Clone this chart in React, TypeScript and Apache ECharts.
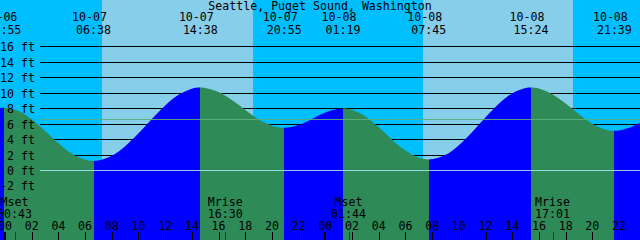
import React, { useEffect, useRef } from 'react';
import * as echarts from 'echarts';

// ---------- data ----------
const TITLE = 'Seattle, Puget Sound, Washington';

// tide extremes
const tideEventDates = ['10-06', '10-07', '10-07', '10-07', '10-08', '10-08', '10-08', '10-08'];
const tideEventTimes = ['23:55', '06:38', '14:38', '20:55', '01:19', '07:45', '15:24', '21:39'];
const tideEventKinds = ['High', 'Low', 'High', 'Low', 'High', 'Low', 'High', 'Low'];
const tideEventFeet = [8.2, 1.3, 10.8, 5.6, 8.1, 1.5, 10.8, 5.2];

// hourly readings of the curve (hours after 10-07 00:00, feet)
const curveHours = [-1, 1, 2, 3, 4, 5, 6, 7, 8, 9, 10, 11, 12, 13, 14, 15, 16, 17, 18, 19, 20, 22, 23, 24, 25, 26, 27, 28, 29, 30, 31, 33, 34, 35, 36, 37, 38, 39, 40, 41, 42, 43, 44, 45, 46, 47, 48];
const curveFeet = [7.9, 7.77, 6.69, 5.19, 3.6, 2.25, 1.45, 1.35, 1.97, 3.21, 4.88, 6.73, 8.48, 9.86, 10.65, 10.76, 10.22, 9.18, 7.91, 6.7, 5.87, 5.96, 6.75, 7.59, 8.07, 7.92, 7.05, 5.65, 4.05, 2.64, 1.72, 2.1, 3.35, 5.06, 6.96, 8.72, 10.05, 10.74, 10.67, 9.94, 8.73, 7.34, 6.11, 5.35, 5.24, 5.76, 6.67];

// sun
const sunriseDates = ['10-07', '10-08'];
const sunriseTimes = ['07:16', '07:19'];
const sunsetDates = ['10-07', '10-08'];
const sunsetTimes = ['18:35', '18:33'];

// moon
const moonEventNames = ['Mset', 'Mrise', 'Mset', 'Mrise'];
const moonEventDates = ['10-07', '10-07', '10-08', '10-08'];
const moonEventTimes = ['00:43', '16:30', '01:44', '17:01'];

// hour ticks
const hourTickHours = [0, 2, 4, 6, 8, 10, 12, 14, 16, 18, 20, 22, 24, 26, 28, 30, 32, 34, 36, 38, 40, 42, 44, 46];
const hourTickLabels = ['00', '02', '04', '06', '08', '10', '12', '14', '16', '18', '20', '22', '00', '02', '04', '06', '08', '10', '12', '14', '16', '18', '20', '22'];

// depth levels
const depthLevels = [-2, 0, 2, 4, 6, 8, 10, 12, 14, 16];
const depthLabels = ['-2 ft', '0 ft', '2 ft', '4 ft', '6 ft', '8 ft', '10 ft', '12 ft', '14 ft', '16 ft'];
const MSL_FEET = 6.6;

// ---------- layout / style ----------
const X_MIN = -0.375;
const X_MAX = 47.57;
const Y_MIN = -8.94;
const Y_MAX = 22.15;

const NIGHT = '#00BFFF';
const DAY = '#87CEEB';
const FLOOD = '#0000FF';
const EBB = '#2E8B57';
const MSL_COLOR = 'rgba(90,175,120,0.9)';
const DATUM_COLOR = 'rgba(165,222,240,0.9)';
const FONT = '11.6px "DejaVu Sans Mono", "Liberation Mono", monospace';

const LINE_START = 40;
const LABEL_RIGHT = 35;
const TITLE_Y = 6;
const EVENT_DATE_Y = 17;
const EVENT_TIME_Y = 30;
const MOON_NAME_Y = 201.5;
const MOON_TIME_Y = 213.5;
const HOUR_LABEL_Y = 226;
const TICK_TOP = 232;

function toHours(date: string, time: string): number {
  const day = parseInt(date.split('-')[1], 10) - 7;
  const [h, m] = time.split(':').map(Number);
  return day * 24 + h + m / 60;
}

function txt(x: number, y: number, text: string, align: string = 'center') {
  return {
    type: 'text',
    x,
    y,
    style: { text, fill: '#000', font: FONT, align, verticalAlign: 'middle' },
  };
}

export default function App() {
  const ref = useRef<HTMLDivElement>(null);

  useEffect(() => {
    if (!ref.current) return;
    const chart = echarts.init(ref.current, undefined, { renderer: 'svg' });

    const eventH = tideEventDates.map((d, i) => toHours(d, tideEventTimes[i]));
    const sunriseH = sunriseDates.map((d, i) => toHours(d, sunriseTimes[i]));
    const sunsetH = sunsetDates.map((d, i) => toHours(d, sunsetTimes[i]));
    const moonH = moonEventDates.map((d, i) => toHours(d, moonEventTimes[i]));

    const curve: number[][] = [];
    curveHours.forEach((h, i) => curve.push([h, curveFeet[i]]));
    eventH.forEach((h, i) => curve.push([h, tideEventFeet[i]]));
    curve.sort((a, b) => a[0] - b[0]);

    const pieces: any[] = [];
    pieces.push({ lt: eventH[0], color: tideEventKinds[0] === 'High' ? FLOOD : EBB });
    eventH.forEach((h, i) => {
      const p: any = { gte: h, color: tideEventKinds[i] === 'High' ? EBB : FLOOD };
      if (i < eventH.length - 1) p.lt = eventH[i + 1];
      pieces.push(p);
    });

    const lineLevels = depthLevels.filter((v) => v !== 0);

    const option: any = {
      animation: false,
      backgroundColor: NIGHT,
      grid: { left: 0, right: 0, top: 0, bottom: 0 },
      xAxis: { type: 'value', min: X_MIN, max: X_MAX, show: false },
      yAxis: { type: 'value', min: Y_MIN, max: Y_MAX, show: false },
      graphic: [
        {
          type: 'text',
          left: 'center',
          top: TITLE_Y - 6,
          z: 100,
          style: { text: TITLE, fill: '#000', font: FONT },
        },
      ],
      visualMap: {
        type: 'piecewise',
        show: false,
        dimension: 0,
        seriesIndex: 2,
        pieces,
      },
      series: [
        // 0 daylight
        {
          type: 'custom',
          z: 1,
          silent: true,
          data: sunriseH.map((h) => [h, 0]),
          renderItem: (params: any, api: any) => {
            const i = params.dataIndex;
            const cs = params.coordSys;
            const a = api.coord([sunriseH[i], 0]);
            const b = api.coord([sunsetH[i], 0]);
            return {
              type: 'rect',
              shape: { x: a[0], y: cs.y, width: b[0] - a[0], height: cs.height },
              style: { fill: DAY },
            };
          },
        },
        // 1 depth lines (behind water)
        {
          type: 'custom',
          z: 2,
          silent: true,
          data: lineLevels.map((v) => [X_MIN, v]),
          renderItem: (params: any, api: any) => {
            const cs = params.coordSys;
            const p = api.coord([X_MIN, lineLevels[params.dataIndex]]);
            const y = Math.round(p[1]) - 0.5;
            return {
              type: 'line',
              shape: { x1: cs.x + LINE_START, y1: y, x2: cs.x + cs.width, y2: y },
              style: { stroke: '#000', lineWidth: 1 },
            };
          },
        },
        // 2 tide
        {
          type: 'line',
          z: 3,
          silent: true,
          data: curve,
          showSymbol: false,
          symbol: 'none',
          smooth: 0.35,
          lineStyle: { width: 0 },
          areaStyle: { origin: 'start', opacity: 1 },
        },
        // 3 datum & msl lines
        {
          type: 'custom',
          z: 4,
          silent: true,
          data: [[X_MIN, 0], [X_MIN, MSL_FEET]],
          renderItem: (params: any, api: any) => {
            const cs = params.coordSys;
            const v = params.dataIndex === 0 ? 0 : MSL_FEET;
            const p = api.coord([X_MIN, v]);
            const y = Math.round(p[1]) - 0.5;
            return {
              type: 'line',
              shape: { x1: cs.x + LINE_START, y1: y, x2: cs.x + cs.width, y2: y },
              style: { stroke: params.dataIndex === 0 ? DATUM_COLOR : MSL_COLOR, lineWidth: 1 },
            };
          },
        },
        // 4 depth labels
        {
          type: 'custom',
          z: 5,
          silent: true,
          data: depthLevels.map((v) => [X_MIN, v]),
          renderItem: (params: any, api: any) => {
            const cs = params.coordSys;
            const i = params.dataIndex;
            const p = api.coord([X_MIN, depthLevels[i]]);
            return txt(cs.x + LABEL_RIGHT, p[1], depthLabels[i], 'right');
          },
        },
        // 5 tide event labels
        {
          type: 'custom',
          z: 5,
          silent: true,
          data: eventH.map((h) => [h, 0]),
          renderItem: (params: any, api: any) => {
            const i = params.dataIndex;
            const p = api.coord([eventH[i], 0]);
            return {
              type: 'group',
              children: [
                txt(p[0] - 4, EVENT_DATE_Y, tideEventDates[i]),
                txt(p[0], EVENT_TIME_Y, tideEventTimes[i]),
              ],
            };
          },
        },
        // 6 moon events
        {
          type: 'custom',
          z: 5,
          silent: true,
          data: moonH.map((h) => [h, 0]),
          renderItem: (params: any, api: any) => {
            const i = params.dataIndex;
            const cs = params.coordSys;
            const p = api.coord([moonH[i], 0]);
            const x = Math.round(p[0]) + 0.5;
            return {
              type: 'group',
              children: [
                txt(p[0], MOON_NAME_Y, moonEventNames[i]),
                txt(p[0], MOON_TIME_Y, moonEventTimes[i]),
                {
                  type: 'line',
                  shape: { x1: x, y1: TICK_TOP, x2: x, y2: cs.y + cs.height },
                  style: { stroke: '#333', lineWidth: 1 },
                },
              ],
            };
          },
        },
        // 7 hour ticks
        {
          type: 'custom',
          z: 5,
          silent: true,
          data: hourTickHours.map((h) => [h, 0]),
          renderItem: (params: any, api: any) => {
            const i = params.dataIndex;
            const cs = params.coordSys;
            const p = api.coord([hourTickHours[i], 0]);
            const major = hourTickLabels[i] === '00';
            const x = major ? Math.round(p[0]) : Math.round(p[0]) + 0.5;
            return {
              type: 'group',
              children: [
                txt(p[0], HOUR_LABEL_Y, hourTickLabels[i]),
                {
                  type: 'line',
                  shape: { x1: x, y1: TICK_TOP, x2: x, y2: cs.y + cs.height },
                  style: { stroke: '#000', lineWidth: major ? 2 : 1 },
                },
              ],
            };
          },
        },
      ],
    };

    chart.setOption(option);
    return () => chart.dispose();
  }, []);

  return (
    <div
      ref={ref}
      style={{ position: 'fixed', left: 0, top: 0, width: 640, height: 240 }}
    />
  );
}
